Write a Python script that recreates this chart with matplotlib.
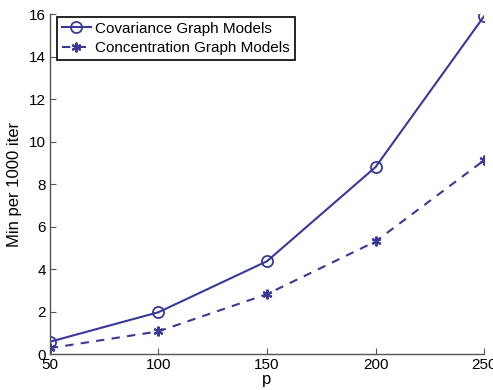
import matplotlib
matplotlib.use('Agg')
import matplotlib.pyplot as plt

# data
p = [50, 100, 150, 200, 250]
cov_min = [0.58, 1.97, 4.37, 8.8, 15.9]
conc_min = [0.28, 1.07, 2.82, 5.3, 9.12]

plt.rcParams['font.family'] = ['Liberation Sans', 'DejaVu Sans']
plt.rcParams['font.size'] = 11

warna = '#38389a'

fig = plt.figure(figsize=(4.93, 3.9), dpi=100)
ax = fig.add_axes([0.101, 0.092, 0.881, 0.872])

ax.plot(p, cov_min, color=warna, marker='o', markersize=8, markerfacecolor='none',
        markeredgewidth=1.3, linewidth=1.5, label='Covariance Graph Models')
ax.plot(p, conc_min, color=warna, marker=(6, 2, 0), markersize=7, markeredgewidth=1.5,
        linestyle='--', dashes=(4, 3.5), linewidth=1.5, label='Concentration Graph Models')

ax.set_xlim(50, 250)
ax.set_ylim(0, 16)
ax.set_xticks([50, 100, 150, 200, 250])
ax.set_yticks(range(0, 17, 2))
ax.set_xlabel('p', labelpad=0, fontsize=12)
ax.set_ylabel('Min per 1000 iter', labelpad=5, fontsize=12)

for s in ['top', 'right']:
    ax.spines[s].set_visible(False)
for s in ['left', 'bottom']:
    ax.spines[s].set_color('#555555')
    ax.spines[s].set_linewidth(1.0)
ax.tick_params(direction='in', length=4, color='#555555', pad=3)

leg = ax.legend(loc='upper left', bbox_to_anchor=(0.01, 1.0), fancybox=False,
                edgecolor='black', framealpha=1, handlelength=1.9,
                borderaxespad=0.2, borderpad=0.3, labelspacing=0.35, handletextpad=0.3,
                fontsize=11)
leg.get_frame().set_linewidth(1.2)

fig.savefig('out.png', dpi=100)
